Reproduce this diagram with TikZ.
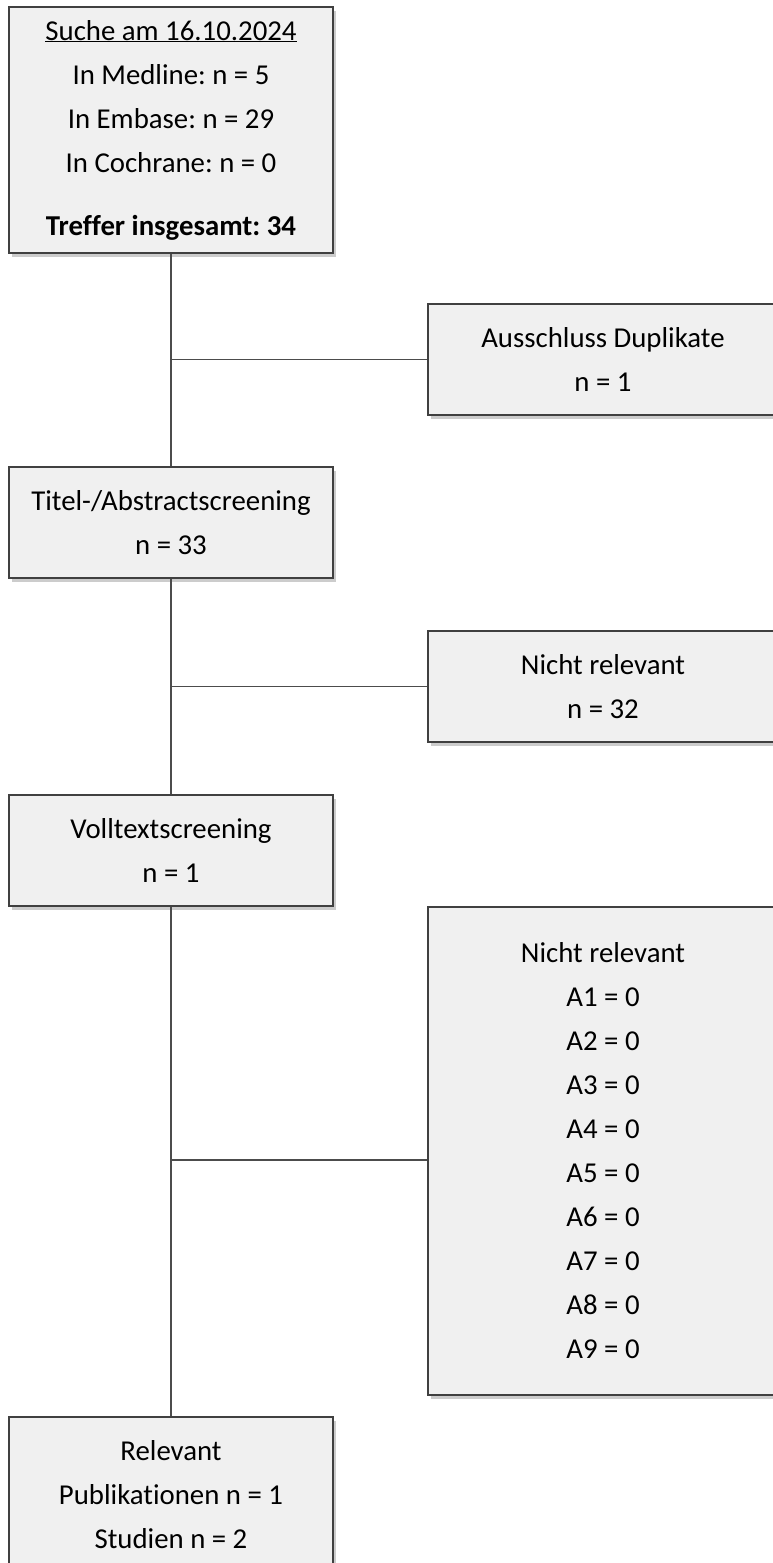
\documentclass[tikz,border=0pt]{standalone}
\usepackage{fontspec}
\setmainfont[Ligatures=NoCommon]{Carlito}
\usetikzlibrary{shadows}

\tikzset{
  flowbox/.style={draw=black!75, line width=1.2pt, fill=black!6,
    minimum width=324pt, inner sep=0pt, align=center,
    font={\fontsize{28.8}{44}\selectfont\frenchspacing},
    drop shadow={opacity=0.4, shadow xshift=3pt, shadow yshift=-4pt}},
  sidebox/.style={flowbox, minimum width=350pt},
  link/.style={draw=black!70, line width=1.8pt}
}

\begin{document}
\begin{tikzpicture}[x=1pt,y=-1pt]
	    % Fix the page to the size of the reference
	    \useasboundingbox (0,0) rectangle (773,1563);

	    % Main column of screening steps
	    \node [flowbox, minimum height=246pt] (suche) at (171,130)
		{\underline{Suche am 16.10.2024}\\In Medline: n = 5\\In Embase: n = 29\\In Cochrane: n = 0\\[19pt]\textbf{Treffer insgesamt: 34}};
	    \node [flowbox, minimum height=111pt] (titel) at (171,522.5)
		{Titel-/Abstractscreening\\n = 33};
	    \node [flowbox, minimum height=111pt] (voll) at (171,850.5)
		{Volltextscreening\\n = 1};
	    \node [flowbox, minimum height=155pt] (rel) at (171,1494.5)
		{Relevant\\Publikationen n = 1\\Studien n = 2};

	    % Excluded records on the right
	    \node [sidebox, minimum height=111pt] (dup) at (603,359.5)
		{Ausschluss Duplikate\\n = 1};
	    \node [sidebox, minimum height=111pt] (nrel1) at (603,686.5)
		{Nicht relevant\\n = 32};
	    \node [sidebox, minimum height=488pt] (nrel2) at (603,1151)
		{Nicht relevant\\A1 = 0\\A2 = 0\\A3 = 0\\A4 = 0\\A5 = 0\\A6 = 0\\A7 = 0\\A8 = 0\\A9 = 0};

	    % Vertical trunk between the steps
	    \draw [link] (suche.south) -- (titel.north);
	    \draw [link] (titel.south) -- (voll.north);
	    \draw [link] (voll.south) -- (rel.north);

	    % Branches to the exclusions
	    \draw [link] (dup.west) -- (dup.west -| suche.south);
	    \draw [link] (nrel1.west) -- (nrel1.west -| titel.south);
	    \coordinate (nrel2 in) at ([yshift=-9pt]nrel2.west);
	    \draw [link] (nrel2 in) -- (nrel2 in -| voll.south);
	\end{tikzpicture}
\end{document}
